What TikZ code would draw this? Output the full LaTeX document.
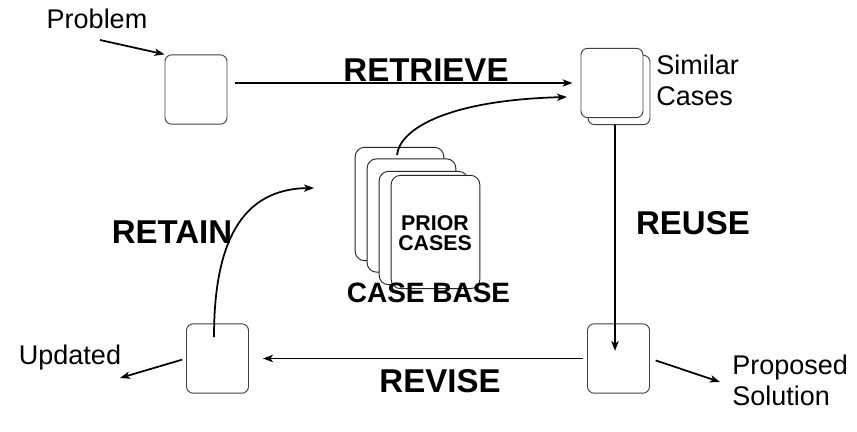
\documentclass[tikz,border=0pt]{standalone}
\usepackage{fontspec}
\setmainfont{Liberation Sans}
\usetikzlibrary{arrows.meta}

\tikzset{
  stage/.style={draw=black!75, line width=0.7pt, rounded corners=5pt, fill=white,
    minimum width=46.5pt, minimum height=52pt, inner sep=0pt},
  card/.style={draw=black!85, line width=0.7pt, rounded corners=7pt, fill=white,
    minimum width=66.5pt, minimum height=85pt, inner sep=0pt},
  flow/.style={line width=1.3pt, -{Stealth[length=7.5pt,width=5.5pt,inset=2pt]}},
  phase/.style={inner sep=0pt, font=\fontsize{24.75}{28}\selectfont\bfseries},
  note/.style={inner sep=0pt, align=left, font=\fontsize{20.25}{23.25}\selectfont}
}

\begin{document}
\begin{tikzpicture}[x=0.75pt,y=0.75pt,yscale=-1,xscale=1]
\useasboundingbox (0,0) rectangle (857,432);

% Stage boxes
\node[stage] (prob) at (196,89.5) {};
\node[stage] (simB) at (619,90) {};
\node[stage] (sim) at (612,83) {};
\node[stage] (sol) at (618.5,358.5) {};
\node[stage] (ret) at (217.5,358.5) {};

% Case base
\node[card] (cardA) at (399.5,204) {};
\node[card] (cardB) at (411.5,215.5) {};
\node[card] (cardC) at (423.5,228) {};
\node[card] (cardD) at (435.5,232) {};
\node[inner sep=0pt, align=center, font=\fontsize{16}{14.5}\selectfont\bfseries] (prior) at (435,233) {PRIOR\\CASES};
\node[inner sep=0pt, font=\fontsize{21}{24}\selectfont\bfseries] (base) at (428.5,293) {CASE BASE};

% Text Nodes
\node[note] (probLbl) at (97,19) {Problem};
\node[note, anchor=west] (simLbl) at (656,80) {Similar\\Cases};
\node[note, anchor=west] (solLbl) at (732,380) {Proposed\\Solution};
\node[note] (updLbl) at (70,358) {Updated};
\node[phase] (retrieve) at (426,70) {RETRIEVE};
\node[phase] (reuse) at (693,223) {REUSE};
\node[phase] (revise) at (440,381) {REVISE};
\node[phase] (retain) at (172,232) {RETAIN};

% Free ends
\coordinate (probFrom) at (100,40);
\coordinate (reuseTip) at (615,351);
\coordinate (solTip) at (720,382);
\coordinate (updTip) at (120,378);
\coordinate (retFrom) at (214,337);
\coordinate (retTip) at (314,188);
\coordinate (baseFrom) at (397,155);
\coordinate (baseTip) at (567,97);

% Connectors
\draw[flow] (probFrom) -- (prob.north west);
\draw[flow, shorten <=6pt, shorten >=6pt] (prob.east |- 0,83) -- (sim.west |- 0,83);
\draw[flow] (baseFrom) .. controls (400,128) and (450,100) .. (baseTip);
\draw[flow] (simB.south -| reuseTip) -- (reuseTip);
\draw[flow, shorten <=3pt, shorten >=10.5pt] (sol.west) -- (ret.east);
\draw[flow, shorten <=4.5pt] (sol.east) -- (solTip);
\draw[flow, shorten <=3pt] (ret.west) -- (updTip);
\draw[flow] (retFrom) .. controls (214,245) and (240,189) .. (retTip);

\end{tikzpicture}
\end{document}
